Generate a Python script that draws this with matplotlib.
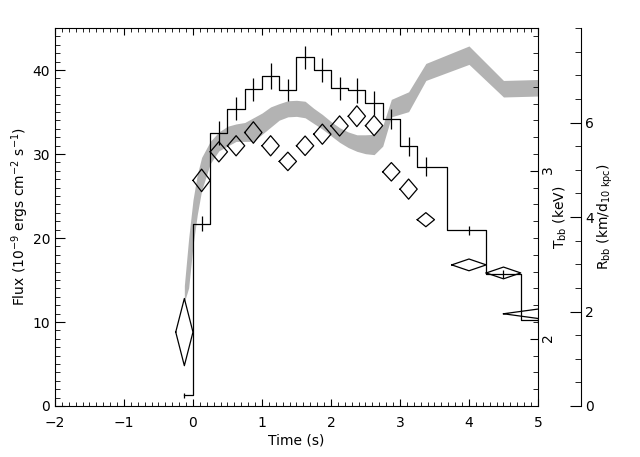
import matplotlib
matplotlib.use('Agg')
import matplotlib.pyplot as plt
from matplotlib.ticker import MultipleLocator, FixedLocator
import numpy as np

# time bin centres (s) and half widths
t_bin = [-0.125, 0.125, 0.375, 0.625, 0.875, 1.125, 1.375, 1.625, 1.875,
         2.125, 2.375, 2.625, 2.875, 3.125, 3.375, 4.0, 4.5, 5.0]
t_half = [0.125, 0.125, 0.125, 0.125, 0.125, 0.125, 0.125, 0.125, 0.125,
          0.125, 0.125, 0.125, 0.125, 0.125, 0.125, 0.25, 0.25, 0.5]

# bolometric flux (1e-9 erg/cm2/s)
flux = [1.3, 21.7, 32.5, 35.4, 37.7, 39.3, 37.6, 41.5, 40.0,
        37.8, 37.6, 36.1, 34.2, 30.9, 28.5, 20.9, 15.7, 10.2]
flux_err = [0.3, 0.9, 1.45, 1.35, 1.4, 1.55, 1.3, 1.4, 1.4,
            1.4, 1.5, 1.4, 1.2, 1.15, 1.1, 0.5, 0.5, 0.3]

# blackbody temperature (keV)
kT = [2.04, 2.943, 3.113, 3.149, 3.228, 3.149, 3.056, 3.149, 3.218,
      3.267, 3.325, 3.269, 2.994, 2.891, 2.709, 2.44, 2.392, 2.149]
kT_err = [0.2, 0.067, 0.06, 0.06, 0.064, 0.06, 0.055, 0.058, 0.06,
          0.06, 0.062, 0.06, 0.055, 0.06, 0.042, 0.035, 0.035, 0.028]

# blackbody radius band (km / d_10kpc)
band_t = [-0.125, -0.0625, 0.0, 0.0625, 0.125, 0.25, 0.375, 0.5, 0.625, 0.75,
          0.875, 1.0, 1.125, 1.25, 1.375, 1.5, 1.625, 1.75, 1.875, 2.0,
          2.125, 2.25, 2.375, 2.5, 2.625, 2.75, 2.875, 3.125, 3.375, 4.0,
          4.5, 5.0]
band_hi = [2.55, 3.55, 4.36, 4.9, 5.26, 5.6, 5.8, 5.92, 5.97, 6.0,
           6.1, 6.2, 6.33, 6.4, 6.46, 6.47, 6.45, 6.3, 6.17, 6.02,
           5.89, 5.8, 5.74, 5.74, 5.75, 5.93, 6.49, 6.65, 7.25, 7.62,
           6.89, 6.91]
band_lo = [2.2, 2.5, 3.39, 4.05, 4.56, 5.13, 5.4, 5.5, 5.6, 5.6,
           5.6, 5.75, 5.9, 6.05, 6.12, 6.13, 6.1, 5.98, 5.86, 5.72,
           5.58, 5.47, 5.39, 5.34, 5.32, 5.5, 6.12, 6.23, 6.89, 7.23,
           6.54, 6.56]

plt.rcParams['mathtext.default'] = 'regular'
plt.rcParams['font.size'] = 10

fig = plt.figure(figsize=(6.4, 4.57), dpi=100)
ax = fig.add_axes([0.0859, 0.1116, 0.7547, 0.8271])
ax_T = ax.twinx()
ax_R = ax.twinx()

# draw order: band at the back, then diamonds, then histogram
ax_R.set_zorder(1)
ax_T.set_zorder(2)
ax.set_zorder(3)
ax.patch.set_visible(False)
ax_T.patch.set_visible(False)

# radius band
ax_R.fill_between(band_t, band_lo, band_hi, color='#b3b3b3', lw=0)
ax_R.set_ylim(0, 8)
ax_R.spines['right'].set_position(('axes', 1.089))
for s in ['left', 'top', 'bottom']:
    ax_R.spines[s].set_visible(False)
ax_R.yaxis.set_major_locator(FixedLocator([0, 2, 4, 6]))
ax_R.yaxis.set_minor_locator(MultipleLocator(0.5))
ax_R.tick_params(axis='y', which='major', direction='in', length=7.9, pad=3, labelsize=10)
ax_R.tick_params(axis='y', which='minor', direction='in', length=4.3)

# temperature diamonds
dx, dy = [], []
for t, h, T, e in zip(t_bin, t_half, kT, kT_err):
    dx += [t - h, t, t + h, t, t - h, np.nan]
    dy += [T, T + e, T, T - e, T, np.nan]
ax_T.plot(dx, dy, color='k', lw=0.9)
ax_T.set_ylim(1.6, 3.85)
ax_T.yaxis.set_major_locator(FixedLocator([2, 3]))
ax_T.yaxis.set_minor_locator(MultipleLocator(0.1))
ax_T.tick_params(axis='y', which='major', direction='in', length=5.8, pad=2,
                 labelsize=10, labelrotation=90)
ax_T.tick_params(axis='y', which='minor', direction='in', length=3.8)
for s in ['left', 'top', 'bottom']:
    ax_T.spines[s].set_visible(False)

# flux histogram with error bars
ax.step(t_bin, flux, where='mid', color='k', lw=0.9)
ax.vlines(t_bin, np.array(flux) - np.array(flux_err),
          np.array(flux) + np.array(flux_err), color='k', lw=0.9)
ax.set_xlim(-2, 5)
ax.set_ylim(0, 45)
ax.xaxis.set_major_locator(MultipleLocator(1))
ax.xaxis.set_minor_locator(MultipleLocator(0.1))
ax.yaxis.set_major_locator(FixedLocator([0, 10, 20, 30, 40]))
ax.yaxis.set_minor_locator(MultipleLocator(1))
ax.tick_params(axis='x', which='major', direction='in', top=True, length=5, pad=7)
ax.tick_params(axis='x', which='minor', direction='in', top=True, length=2.9)
ax.tick_params(axis='y', which='major', direction='in', right=False, length=7.2, pad=3.5)
ax.tick_params(axis='y', which='minor', direction='in', right=False, length=3.6)
ax.spines['right'].set_visible(False)

for a in (ax, ax_T, ax_R):
    for s in a.spines.values():
        s.set_linewidth(0.8)

ax.set_xlabel('Time (s)', labelpad=3)
ax.text(-0.0725, 0.5, r'Flux (10$^{-9}$ ergs cm$^{-2}$ s$^{-1}$)', rotation=90,
        ha='center', va='center', transform=ax.transAxes)
ax.text(1.0455, 0.50, r'T$_{bb}$ (keV)', rotation=90,
        ha='center', va='center', transform=ax.transAxes)
ax.text(1.139, 0.50, r'R$_{bb}$ (km/d$_{10\ kpc}$)', rotation=90,
        ha='center', va='center', transform=ax.transAxes)

fig.savefig('out.png', dpi=100, facecolor='white')
